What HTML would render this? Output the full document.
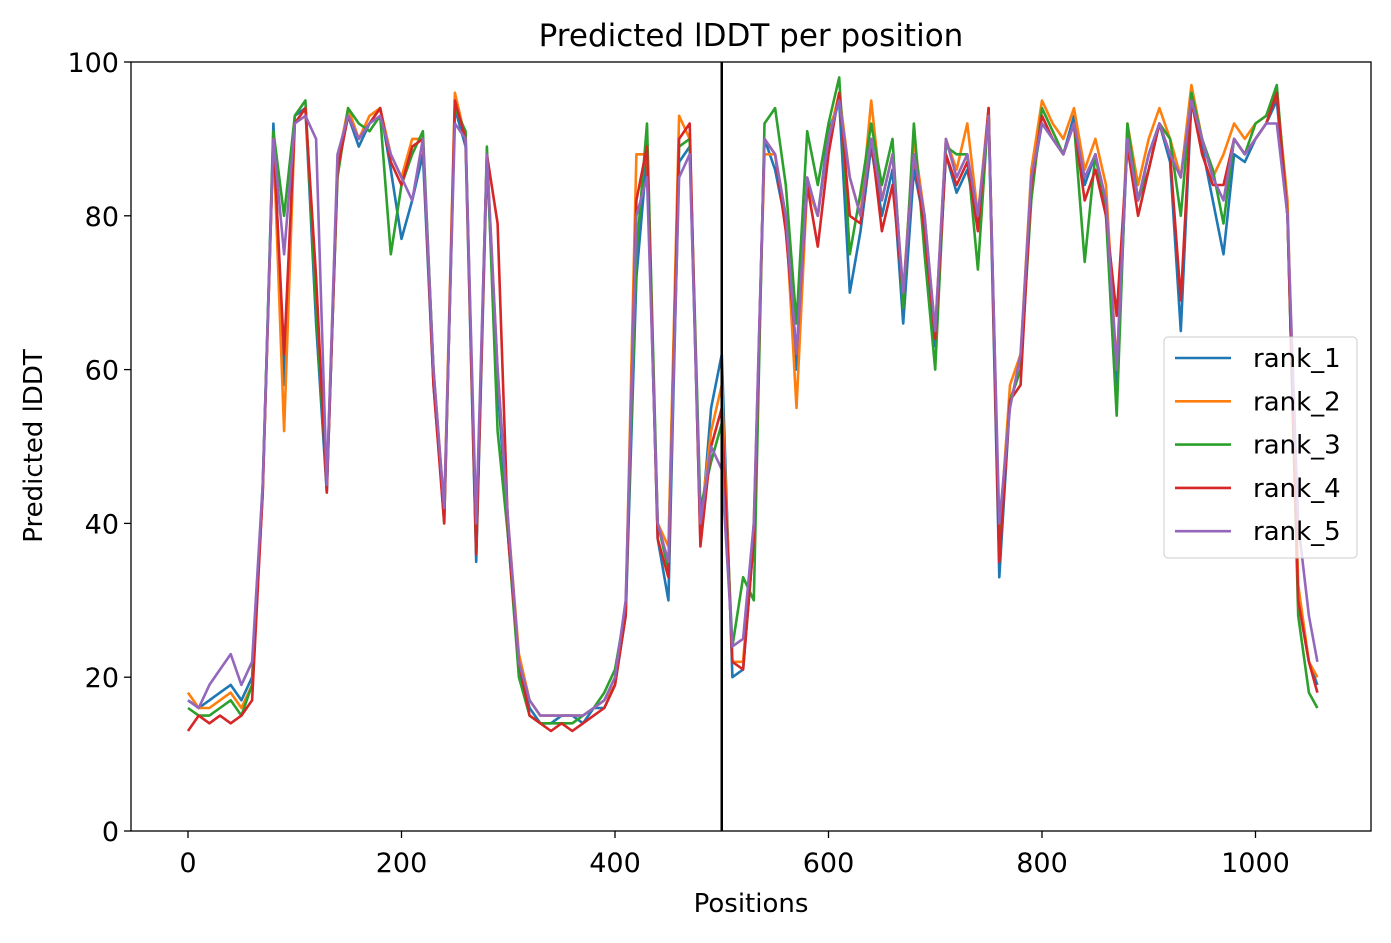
<!DOCTYPE html>
<html><head><meta charset="utf-8"><style>
body{margin:0;background:#fff;font-family:"DejaVu Sans","Liberation Sans",sans-serif}
</style></head><body>
<svg id="chart" width="1391" height="939" xmlns="http://www.w3.org/2000/svg" font-family="DejaVu Sans, Liberation Sans, sans-serif">
<rect width="1391" height="939" fill="#fff"/>
<text x="751" y="46" font-size="31" text-anchor="middle">Predicted lDDT per position</text>
<text x="751" y="912" font-size="26" text-anchor="middle">Positions</text>
<text transform="translate(42,446) rotate(-90)" font-size="26" text-anchor="middle">Predicted lDDT</text>
<g id="ticks"></g>
<g id="lines"></g>
<line id="sep" stroke="#000" stroke-width="2.5"/>
<rect x="131" y="62" width="1240" height="769" fill="none" stroke="#000" stroke-width="1.3"/>
<g id="legend"></g>
</svg>
<script>
const xTicks=[0,200,400,600,800,1000];
const yTicks=[0,20,40,60,80,100];
const positions=[];for(let p=0;p<=1050;p+=10)positions.push(p);positions.push(1058);
const seriesNames=["rank_1","rank_2","rank_3","rank_4","rank_5"];
const colors=["#1f77b4","#ff7f0e","#2ca02c","#d62728","#9467bd"];
const rank1=[17,16,17,18,19,17,20,44,92,58,93,94,66,44,86,93,89,92,94,86,77,82,88,58,41,94,89,35,87,58,38,21,16,14,14,15,15,14,16,16,19,28,72,88,38,30,87,89,38,55,62,20,21,38,90,86,79,60,84,80,91,95,70,78,89,80,86,66,86,79,63,88,83,86,79,93,33,56,60,84,92,90,88,93,84,88,81,58,90,82,88,92,87,65,95,89,82,75,88,87,90,92,95,80,30,22,19,17];
const rank2=[18,16,16,17,18,16,19,44,90,52,92,94,70,45,87,94,90,93,94,88,85,90,90,60,42,96,90,37,88,60,40,23,17,15,15,15,15,15,16,17,19,29,88,88,40,37,93,90,40,52,58,22,22,40,88,88,80,55,84,80,90,96,85,80,95,82,88,70,90,80,65,90,86,92,80,94,38,58,62,86,95,92,90,94,86,90,84,60,92,84,90,94,90,85,97,90,85,88,92,90,92,93,96,82,32,22,20,18];
const rank3=[16,15,15,16,17,15,19,45,91,80,93,95,68,45,85,94,92,91,93,75,84,88,91,60,40,94,91,36,89,52,38,20,15,14,14,14,14,15,16,18,21,29,75,92,40,34,89,90,42,48,53,24,33,30,92,94,84,66,91,84,92,98,75,83,92,84,90,68,92,75,60,89,88,88,73,94,37,56,60,82,94,91,88,92,74,88,80,54,92,82,86,92,90,80,96,90,86,79,90,88,92,93,97,80,28,18,16,18];
const rank4=[13,15,14,15,14,15,17,44,90,62,92,94,72,44,86,93,90,92,94,87,84,89,90,58,40,95,90,36,88,79,38,22,15,14,13,14,13,14,15,16,19,28,82,89,38,33,90,92,37,50,55,22,21,38,90,88,78,62,84,76,88,96,80,79,90,78,84,70,88,78,64,88,84,87,78,94,35,56,58,84,93,90,88,92,82,86,80,67,89,80,86,92,88,69,95,88,84,84,90,88,90,92,96,80,30,22,18,13];
const rank5=[17,16,19,21,23,19,22,45,90,75,92,93,90,45,88,93,90,92,93,88,85,82,90,60,42,92,90,40,88,60,40,22,17,15,15,15,15,15,16,17,20,30,80,85,40,35,85,88,40,50,47,24,25,40,90,88,80,62,85,80,90,95,85,80,90,82,88,70,88,80,65,90,85,88,80,93,40,55,62,85,92,90,88,92,85,88,82,60,90,82,88,92,88,85,95,90,85,82,90,88,90,92,92,80,40,28,22,20];
const seriesValues=[rank1,rank2,rank3,rank4,rank5];
const L=131,R=1371,T=62,B=831,XMIN=-53.4,XMAX=1108.2;
const xs=v=>L+(v-XMIN)/(XMAX-XMIN)*(R-L);
const ys=v=>B-v/100*(B-T);
const NS="http://www.w3.org/2000/svg";
const mk=(t,a,p)=>{const e=document.createElementNS(NS,t);for(const k in a)e.setAttribute(k,a[k]);p.appendChild(e);return e;};
const tg=document.getElementById('ticks');
xTicks.forEach(v=>{
 const l=mk('line',{x1:xs(v),x2:xs(v),y1:B,y2:B+7,stroke:'#000','stroke-width':1.3},tg);
 
 
 const t=mk('text',{x:xs(v),y:B+41,'font-size':27,'text-anchor':'middle'},tg);t.textContent=v;
 
 
});
yTicks.forEach(v=>{
 const l=mk('line',{x1:L-7,x2:L,y1:ys(v),y2:ys(v),stroke:'#000','stroke-width':1.3},tg);
 
 
 const t=mk('text',{x:L-12,y:ys(v)+10,'font-size':27,'text-anchor':'end'},tg);t.textContent=v;
 
 
});
const lg=document.getElementById('lines');
seriesValues.forEach((vals,i)=>{
 const d=vals.map((v,j)=>(j?'L':'M')+xs(positions[j]).toFixed(1)+','+ys(v).toFixed(1)).join('');
 const p=mk('path',{d:d,fill:'none',stroke:colors[i],'stroke-width':2.6,'stroke-linejoin':'round'},lg);
 
 
});
const sep=document.getElementById('sep');
sep.setAttribute('x1',xs(500));sep.setAttribute('x2',xs(500));sep.setAttribute('y1',T);sep.setAttribute('y2',B);
const leg=document.getElementById('legend');
const box=mk('rect',{x:1164,y:337,width:193,height:221,rx:4,fill:'#fff','fill-opacity':0.8,stroke:'#ccc'},leg);


seriesNames.forEach((n,i)=>{
 const y=358+i*43.3;
 const l=mk('line',{x1:1175,x2:1231,y1:y,y2:y,stroke:colors[i],'stroke-width':2.6},leg);
 
 
 const t=mk('text',{x:1253,y:y+9,'font-size':26},leg);t.textContent=n;
 
 
});
</script>
</body></html>
